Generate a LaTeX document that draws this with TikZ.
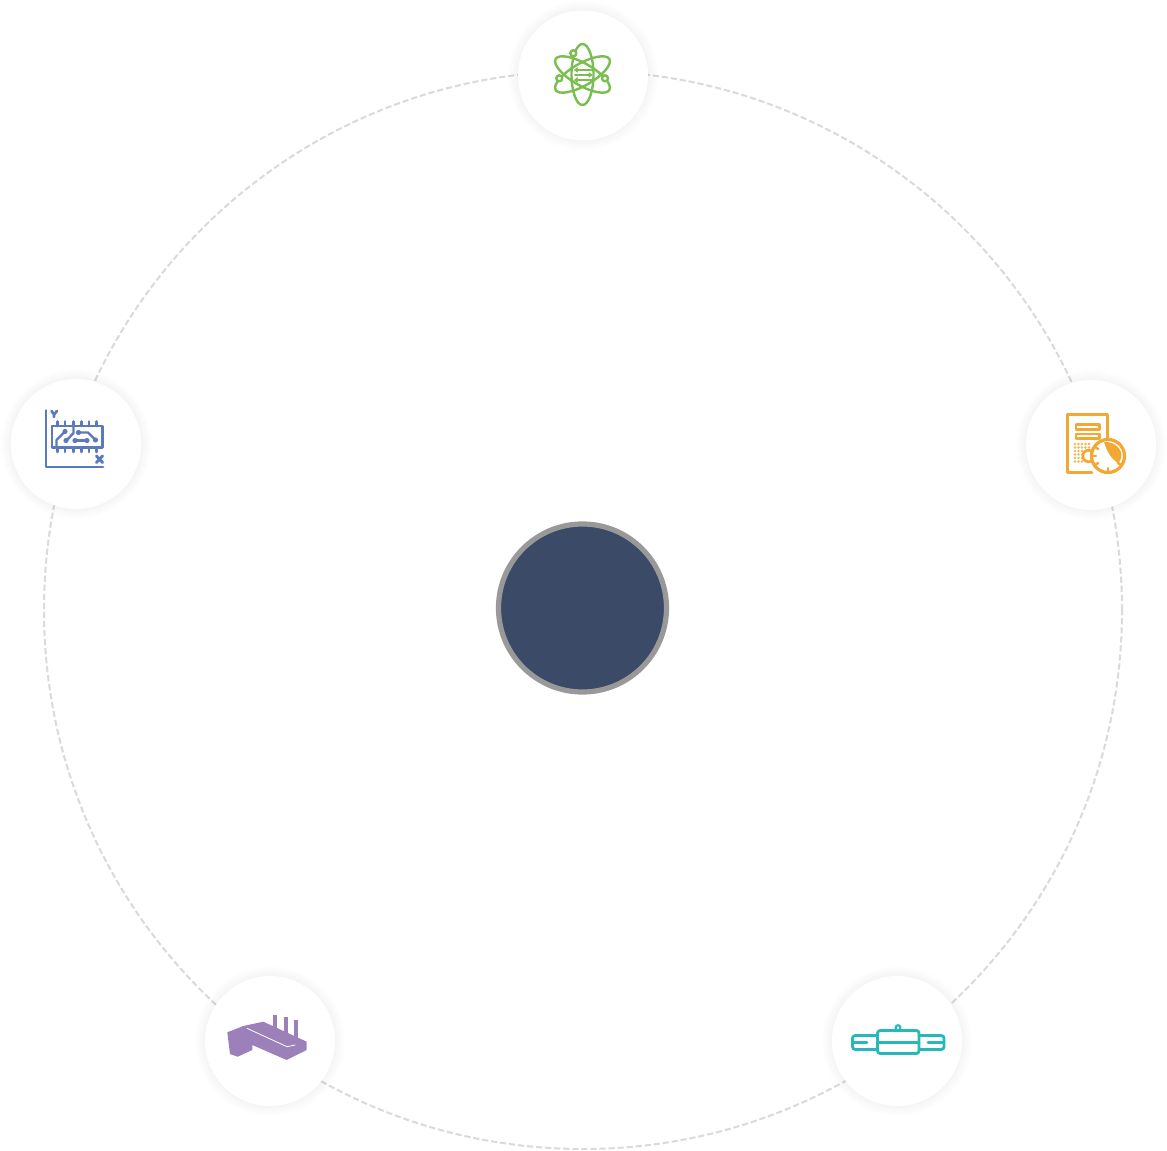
\documentclass[tikz,border=0pt]{standalone}
\definecolor{ringgray}{HTML}{DADADA}
\definecolor{hubfill}{HTML}{3B4A66}
\definecolor{hubline}{HTML}{999999}
\definecolor{atomgreen}{HTML}{7ABD50}
\definecolor{calcorange}{HTML}{F3A833}
\definecolor{pcbblue}{HTML}{5A79BE}
\definecolor{factorypurple}{HTML}{9C80BA}
\definecolor{pipeteal}{HTML}{27B9B9}
\tikzset{
  px/.style={x=0.75pt,y=-0.75pt},
  ringline/.style={draw=ringgray,line width=1.5pt,dash pattern=on 4.6pt off 2.2pt},
  station/.style={circle,fill=white,minimum size=97.5pt,inner sep=0pt,outer sep=0pt},
  hub/.style={circle,fill=hubfill,draw=hubline,line width=3.9pt,minimum size=126pt,inner sep=0pt},
  icon/.style={line cap=round,line join=round},
  halo/.pic={\foreach \r in {75,74,73,72,71,70,69,68,67,66}{\fill[black,opacity=0.003] (0,0) circle[radius=\r];}}
}
\begin{document}
\begin{tikzpicture}[px]
\useasboundingbox (0,0) rectangle (1167,1151);
\fill[white] (0,0) rectangle (1167,1151);
\node[circle,ringline,minimum size=808.5pt,inner sep=0pt,outer sep=0pt] (ring) at (583,610) {};
\foreach \p in {(583,75.5),(1091,445),(76,444),(270,1041),(897,1041)}{\path \p pic{halo};}
\node[station] (top) at (583,75.5) {};
\node[station] (right) at (1091,445) {};
\node[station] (left) at (76,444) {};
\node[station] (botleft) at (270,1041) {};
\node[station] (botright) at (897,1041) {};
\node[hub] (center) at (582.5,608) {};
% atom
\begin{scope}[shift={(582.5,74.5)},icon,line width=1.8pt]
\draw[atomgreen] (0,0) ellipse[x radius=11,y radius=30.5];
\draw[atomgreen,rotate=60] (0,0) ellipse[x radius=11,y radius=31];
\draw[atomgreen,rotate=-60] (0,0) ellipse[x radius=11,y radius=31];
\foreach \a/\b in {-9.2/-21.2,-23.2/3.8,22.5/3.8}{\draw[atomgreen,fill=white] (\a,\b) circle[radius=3];}
\foreach \y in {-4.5,0.5,5.5}{\draw[atomgreen,line width=1.3pt] (-7.5,\y)--(9,\y);}
\foreach \y in {-4.5,5.5}{\draw[atomgreen,line width=1pt] (-5,\y-2)--(-7.5,\y)--(-5,\y+2);}
\draw[atomgreen,line width=1pt] (6.5,-1.5)--(9,0.5)--(6.5,2.5);
\end{scope}
% calculator
\begin{scope}[icon]
\draw[calcorange,line width=2pt] (1092,472.5)--(1067.5,472.5)--(1067.5,414.5)--(1107.5,414.5)--(1107.5,439);
\draw[calcorange,line width=2.2pt] (1076,424.5)rectangle(1099.5,429.5);
\draw[calcorange,line width=2.2pt] (1076,434)rectangle(1099.5,438.5);
\foreach \x in {1075,1078.5,1082,1085.5,1089}{\foreach \y in {444,447.5,451}{\fill[calcorange!85] (\x,\y) circle[radius=1.4];}}
\foreach \x in {1075,1078.5,1082}{\foreach \y in {454.5,458,461.5}{\fill[calcorange!85] (\x,\y) circle[radius=1.4];}}
\draw[calcorange,line width=2pt] (1091.5,451) arc[start angle=-60,end angle=-300,radius=5.8];
\draw[calcorange,fill=white,line width=2.4pt] (1108,456) circle[radius=16.5];
\foreach \a in {215,180,145,90,35}{\draw[calcorange,line width=1.8pt] (1108,456)++(\a:16)--++(\a:-4);}
\fill[calcorange] (1104,442) .. controls (1112,441.5) and (1119,446) .. (1121,452) .. controls (1122,456) and (1121,460) .. (1118.5,463) .. controls (1112,460) and (1107,452) .. (1104,442) -- cycle;
\end{scope}
% pcb
\begin{scope}[icon]
\draw[pcbblue,line width=2.2pt] (46,410.5)--(46,467)--(103,467);
\draw[pcbblue,line width=2.2pt] (52,426)rectangle(102.5,447.5);
\foreach \x in {57.5,65,73.5,81.5,89,96.5}{\draw[pcbblue,line width=2pt] (\x,421.5)--(\x,426) (\x,447.5)--(\x,452);}
\draw[pcbblue,line width=2pt] (51.5,411)--(54,414.5)--(57,411) (54,414.5)--(54,417);
\draw[pcbblue,line width=2.2pt] (96.5,456)--(102.5,462.5) (102.5,456)--(96.5,462.5);
\draw[pcbblue,line width=1.8pt] (65,431.5)--(56.5,440)--(56.5,447.5);
\draw[pcbblue,line width=1.8pt] (73.5,426)--(73.5,433)--(66.5,440.5);
\draw[pcbblue,line width=1.8pt] (78.5,432.5)--(88,432.5)--(95.5,440);
\draw[pcbblue,line width=2pt] (75,440.5)--(87,440.5);
\foreach \a/\b in {65/431.5,66/440.5,78.5/432.5,95.5/440,75/440.5,87/440.5}{\fill[pcbblue] (\a,\b) circle[radius=2.6];}
\end{scope}
% factory
\begin{scope}[icon]
\fill[factorypurple] (227.3,1032.3)--(243.3,1026)--(263.3,1021.7)--(306.7,1041.7)--(306.7,1050)--(286.7,1060)--(252.3,1045)--(252.3,1050)--(237.7,1056.7)--(230,1054)--cycle;
\draw[factorypurple,line width=2.7pt,line cap=butt] (275,1015)--(275,1031) (286,1017)--(286,1036) (296,1019.5)--(296,1040);
\draw[white,line width=0.6pt] (247,1028.3)--(287,1046.7)--(295,1045);
\end{scope}
% pipe
\begin{scope}[icon]
\draw[pipeteal,line width=2.1pt,rounded corners=2pt] (877.5,1030.5)rectangle(919,1053.5);
\draw[pipeteal,line width=2.1pt,rounded corners=2pt] (877.5,1035.5)--(852.5,1035.5)--(852.5,1049.5)--(877.5,1049.5);
\draw[pipeteal,line width=2.1pt,rounded corners=2pt] (919,1035.5)--(944,1035.5)--(944,1049.5)--(919,1049.5);
\draw[pipeteal,line width=2.1pt] (877.5,1042.3)--(919,1042.3) (852.5,1042.3)--(867,1042.3) (928,1042.3)--(944,1042.3);
\draw[pipeteal,line width=1.6pt] (898,1027.7) circle[radius=2.5];
\end{scope}
\end{tikzpicture}
\end{document}
